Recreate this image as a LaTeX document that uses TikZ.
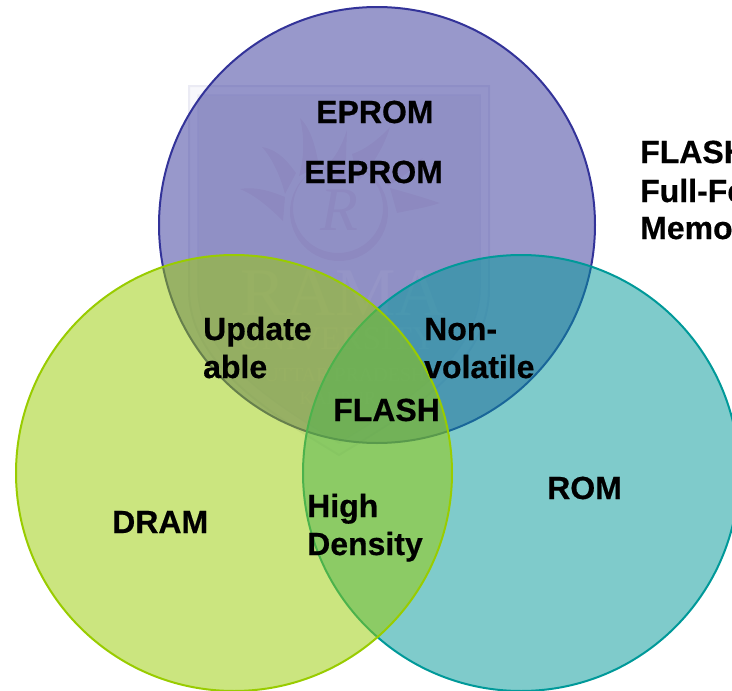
\documentclass[tikz,border=0pt]{standalone}
\usepackage{fontspec}
\setmainfont{Liberation Sans}[BoldFeatures={FakeBold=0.5}]
\newfontfamily\wmfont{Liberation Serif}
\definecolor{cpurple}{HTML}{333399}
\definecolor{cgreen}{HTML}{99CC00}
\definecolor{cteal}{HTML}{009999}
\definecolor{wmline}{HTML}{EBEBF4}
\definecolor{wmband}{HTML}{F8F8FC}
\definecolor{wminner}{HTML}{EFEFF3}
\definecolor{wmflame}{HTML}{E9E1E8}
\definecolor{wmtext}{HTML}{F9F9F6}
\tikzset{
  lbl/.style={inner sep=0pt,anchor=base west,align=left,text=black,
    font=\fontsize{32}{38}\selectfont\bfseries},
  venn/.style={line width=2pt,fill opacity=.5,draw opacity=1},
  flame/.style={fill=wmflame,draw=none},
  wmlabel/.style={inner sep=0pt,anchor=base,text=wmtext},
}
\begin{document}
\begin{tikzpicture}[x=1pt,y=-1pt]
\clip (0,0) rectangle (732,691);
\fill[white] (0,0) rectangle (732,691);
% watermark shield
\draw[line width=2pt,draw=wmline,fill=wmband]
  (189,86) -- (489,86) -- (489,290) .. controls (489,365) and (405,415) .. (339,455)
  .. controls (273,415) and (189,365) .. (189,290) -- cycle;
\draw[line width=1.5pt,draw=wmline,fill=wminner]
  (198,95) -- (480,95) -- (480,288) .. controls (480,358) and (400,405) .. (339,443)
  .. controls (278,405) and (198,358) .. (198,288) -- cycle;
% sun logo
\fill[flame] (240,189) .. controls (258,186) and (275,193) .. (285,197) -- (283,221) .. controls (270,208) and (255,195) .. cycle;
\fill[flame] (262,147) .. controls (280,150) and (290,165) .. (296,173) -- (285,194) .. controls (280,175) and (272,158) .. cycle;
\fill[flame] (300,118) .. controls (312,130) and (316,150) .. (319,166) -- (299,176) .. controls (305,155) and (304,135) .. cycle;
\fill[flame] (347,130) .. controls (346,150) and (346,170) .. (345,183) -- (323,168) .. controls (335,160) and (342,145) .. cycle;
\fill[flame] (390,127) .. controls (385,145) and (370,170) .. (358,181) -- (352,154) .. controls (365,150) and (380,138) .. cycle;
\fill[flame] (423,158) .. controls (410,172) and (398,180) .. (388,186) -- (378,170) .. controls (392,170) and (410,165) .. cycle;
\fill[flame] (440,203) .. controls (425,208) and (410,210) .. (397,213) -- (390,188) .. controls (405,192) and (425,198) .. cycle;
\fill[flame,even odd rule] (339,212) circle [radius=49] (338,208) circle [radius=45];
\node[font=\wmfont\itshape\fontsize{62}{62}\selectfont,text=wmflame,inner sep=0pt,anchor=base] (wmR) at (339,230) {R};
% watermark text
\node[wmlabel,font=\wmfont\fontsize{68}{68}\selectfont] (wmrama) at (343,315) {RAMA};
\node[wmlabel,font=\wmfont\fontsize{33}{33}\selectfont] (wmuni) at (337,349) {UNIVERSITY};
\node[wmlabel,font=\wmfont\fontsize{20}{20}\selectfont] (wmup) at (345,381) {UTTAR PRADESH};
\node[wmlabel,font=\wmfont\fontsize{18.7}{19}\selectfont] (wmkan) at (338,404) {KANPUR};
% venn circles
\path[venn,draw=cpurple,fill=cpurple] (377,225) circle [radius=218];
\path[venn,draw=cteal,fill=cteal] (521,473) circle [radius=218];
\path[venn,draw=cgreen,fill=cgreen] (234,473) circle [radius=218];
% labels
\node[lbl] (eprom) at (316,123) {EPROM};
\node[lbl] (eeprom) at (304,183) {EEPROM};
\node[lbl] (flash) at (333,421) {FLASH};
\node[lbl] (update) at (203,378) {Update\\able};
\node[lbl] (nonvol) at (424,378) {Non-\\volatile};
\node[lbl] (high) at (307,555) {High\\Density};
\node[lbl] (dram) at (112,533) {DRAM};
\node[lbl] (rom) at (547,499) {ROM};
\node[lbl] (side1) at (640,163) {FLASH};
\node[lbl] (side2) at (640,202) {Full-Fe};
\node[lbl] (side3) at (640,239) {Memo};
\end{tikzpicture}
\end{document}
